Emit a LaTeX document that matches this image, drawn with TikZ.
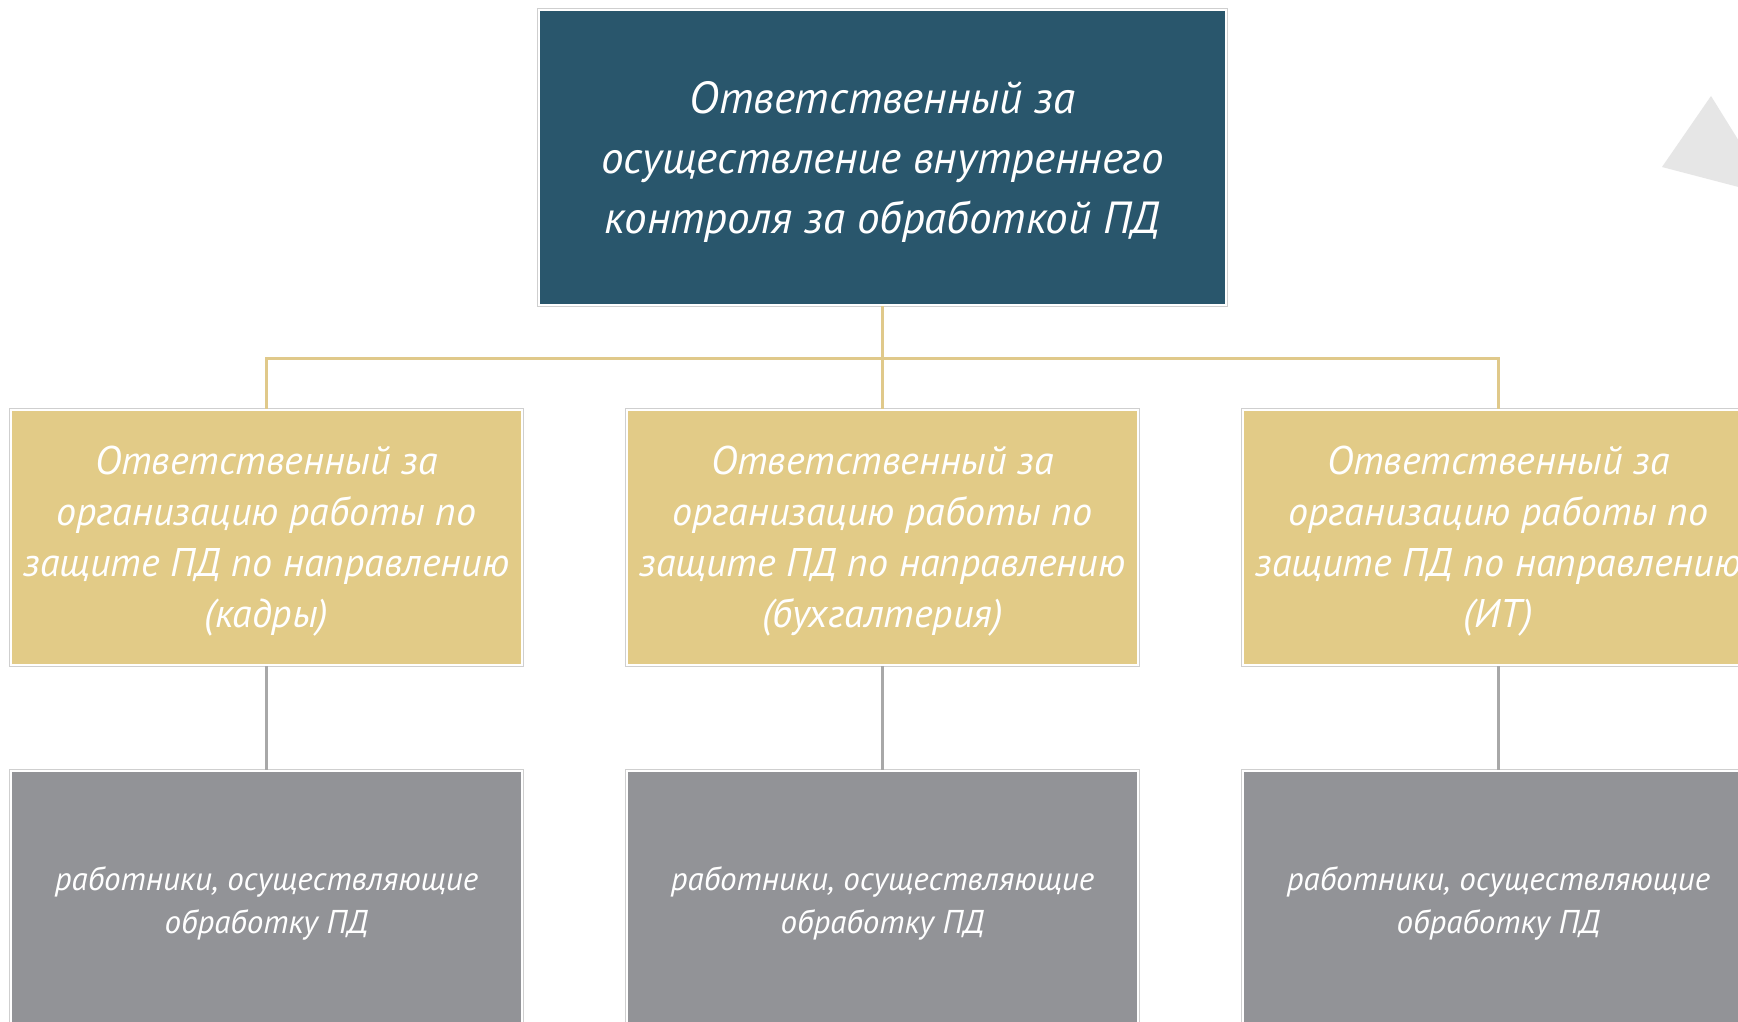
\documentclass[tikz,border=0pt]{standalone}
\usepackage{fontspec}
\setmainfont{PT Sans}
\definecolor{topc}{HTML}{29566C}
\definecolor{midc}{HTML}{E2CB87}
\definecolor{botc}{HTML}{929397}
\definecolor{yline}{HTML}{E0C98A}
\definecolor{gline}{HTML}{A8A8A8}
\definecolor{edge}{HTML}{CFCFCF}
\definecolor{tric}{HTML}{E6E6E6}
\tikzset{
  box/.style={rectangle, inner sep=0pt,
    draw=white, line width=2pt,
    preaction={draw=edge, line width=4pt}},
  topbox/.style={box, fill=topc, minimum width=687pt, minimum height=295pt},
  midbox/.style={box, fill=midc, minimum width=511pt, minimum height=255pt},
  botbox/.style={box, fill=botc, minimum width=511pt, minimum height=259pt},
  txt/.style={inner sep=0pt, align=center, text=white},
  toptxt/.style={txt, font=\itshape\fontsize{45}{60}\selectfont},
  midtxt/.style={txt, font=\itshape\fontsize{40}{51}\selectfont},
  bottxt/.style={txt, font=\itshape\fontsize{33}{43}\selectfont},
  ylink/.style={draw=yline, line width=3pt},
  glink/.style={draw=gline, line width=3pt}
}
\begin{document}
\begin{tikzpicture}[x=1pt,y=-1pt]
\useasboundingbox (0,0) rectangle (1738,1022);
\clip (0,0) rectangle (1738,1022);
\fill[white] (0,0) rectangle (1738,1022);
% decorative triangle
\fill[tric] (1711,96) -- (1662,167) -- (1773,196) -- cycle;
% boxes
\node[topbox] (top) at (882.5,157.5) {};
\node[midbox] (m1) at (266.5,537.5) {};
\node[midbox] (m2) at (882.5,537.5) {};
\node[midbox] (m3) at (1498.5,537.5) {};
\node[botbox] (b1) at (266.5,900.5) {};
\node[botbox] (b2) at (882.5,900.5) {};
\node[botbox] (b3) at (1498.5,900.5) {};
% texts
\node[toptxt] (ttop) at ([yshift=-4pt]top.center) {Ответственный за\\осуществление внутреннего\\контроля за обработкой ПД};
\node[midtxt] (t1) at ([yshift=-4pt]m1.center) {Ответственный за\\организацию работы по\\защите ПД по направлению\\(кадры)};
\node[midtxt] (t2) at ([yshift=-4pt]m2.center) {Ответственный за\\организацию работы по\\защите ПД по направлению\\(бухгалтерия)};
\node[midtxt] (t3) at ([yshift=-4pt]m3.center) {Ответственный за\\организацию работы по\\защите ПД по направлению\\(ИТ)};
\node[bottxt] (tb1) at ([yshift=-3pt]b1.center) {работники, осуществляющие\\обработку ПД};
\node[bottxt] (tb2) at ([yshift=-3pt]b2.center) {работники, осуществляющие\\обработку ПД};
\node[bottxt] (tb3) at ([yshift=-3pt]b3.center) {работники, осуществляющие\\обработку ПД};
\coordinate (bus) at (882.5,358);
% connectors
\path[ylink] (top.south) -- (bus);
\path[ylink] (bus) -| (m1.north);
\path[ylink] (bus) -- (m2.north);
\path[ylink] (bus) -| (m3.north);
\path[glink] (m1.south) -- (b1.north);
\path[glink] (m2.south) -- (b2.north);
\path[glink] (m3.south) -- (b3.north);
\end{tikzpicture}
\end{document}
